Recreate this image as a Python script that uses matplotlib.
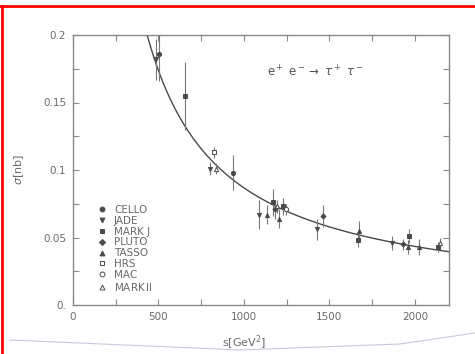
import numpy as np
import matplotlib
matplotlib.use("Agg")
import matplotlib.pyplot as plt
from matplotlib.lines import Line2D

# experiments and marker style
experiments = ["CELLO", "JADE", "MARK J", "PLUTO", "TASSO", "HRS", "MAC", "MARKII"]
legend_text = ["CELLO", "JADE", "MARK J", "PLUTO", "TASSO", "HRS", "MAC", r"MARK$\,$II"]
markers = ["o", "v", "s", "D", "^", "s", "o", "^"]
filled = [True, True, True, True, True, False, False, False]

# s [GeV^2], sigma [nb], error [nb]
s_vals = {
    "CELLO":  [504, 938],
    "JADE":   [487, 803, 1090, 1425, 1864],
    "MARK J": [656, 1172, 1231, 1665, 1964, 2134],
    "PLUTO":  [1184, 1460, 1928],
    "TASSO":  [1137, 1207, 1676, 2022, 1958],
    "HRS":    [826],
    "MAC":    [1249],
    "MARKII": [838, 1196, 2146],
}
sigma_vals = {
    "CELLO":  [0.186, 0.098],
    "JADE":   [0.182, 0.101, 0.067, 0.056, 0.046],
    "MARK J": [0.155, 0.076, 0.073, 0.048, 0.051, 0.043],
    "PLUTO":  [0.071, 0.066, 0.045],
    "TASSO":  [0.067, 0.064, 0.055, 0.043, 0.043],
    "HRS":    [0.113],
    "MAC":    [0.071],
    "MARKII": [0.101, 0.073, 0.046],
}
err_vals = {
    "CELLO":  [0.020, 0.013],
    "JADE":   [0.015, 0.005, 0.011, 0.008, 0.005],
    "MARK J": [0.025, 0.010, 0.006, 0.005, 0.005, 0.004],
    "PLUTO":  [0.007, 0.008, 0.004],
    "TASSO":  [0.007, 0.007, 0.007, 0.006, 0.005],
    "HRS":    [0.004],
    "MAC":    [0.004],
    "MARKII": [0.004, 0.005, 0.004],
}

# QED point-like prediction sigma = 4 pi alpha^2 / 3s = 86.8 nb GeV^2 / s
qed_const = 86.8
s_curve = np.linspace(400, 2200, 300)

xticks = [0, 250, 500, 750, 1000, 1250, 1500, 1750, 2000]
xlabels = ["0", "", "500", "", "1000", "", "1500", "", "2000"]
yticks = [0, 0.025, 0.05, 0.075, 0.1, 0.125, 0.15, 0.175, 0.2]
ylabels = ["0.", "", "0.05", "", "0.1", "", "0.15", "", "0.2"]

ink = "#4a4a4a"
txt = "#6a6a6a"

fig = plt.figure(figsize=(4.75, 3.54), dpi=100)
ax = fig.add_axes([73 / 475, 49 / 354, 376 / 475, 270 / 354])

ax.plot(s_curve, qed_const / s_curve, color=ink, lw=1.0)

handles = []
for name, lab, m, f in zip(experiments, legend_text, markers, filled):
    fc = ink if f else "white"
    ms = 3.0 if m != "D" else 2.6
    ax.errorbar(s_vals[name], sigma_vals[name], yerr=err_vals[name], fmt=m,
                ms=ms, mfc=fc, mec=ink, mew=0.7, ecolor="#777777",
                elinewidth=0.8, capsize=0, zorder=3)
    handles.append(Line2D([], [], ls="none", marker=m, ms=ms + 0.5, mfc=fc,
                          mec=ink, mew=0.7, label=lab))

ax.set_xlim(0, 2200)
ax.set_ylim(0, 0.2)
ax.set_xticks(xticks)
ax.set_xticklabels(xlabels)
ax.set_yticks(yticks)
ax.set_yticklabels(ylabels)
ax.tick_params(direction="in", top=True, right=True, length=4, width=0.8,
               color="#888888", labelsize=7.5, labelcolor=txt, pad=5)
for sp in ax.spines.values():
    sp.set_color("#888888")
    sp.set_linewidth(1.0)

ax.set_xlabel(r"s[GeV$^2$]", fontsize=8, color=txt, labelpad=6)
ax.xaxis.set_label_coords(0.455, -0.105)
ax.set_ylabel(r"$\sigma$[nb]", fontsize=8, color=txt, labelpad=12)

ax.text(0.515, 0.845, r"e$^+$ e$^-$$\rightarrow$ $\tau^+$ $\tau^-$",
        transform=ax.transAxes, fontsize=8.5, color="#555555")

leg = ax.legend(handles=handles, loc="upper left",
                bbox_to_anchor=(0.051, 0.39), frameon=False, fontsize=7.5,
                handlelength=0.8, handletextpad=0.8, labelspacing=0.08,
                borderpad=0, labelcolor=txt)

# scan frame: red border on top and left, faint page edge near bottom
fig.add_artist(Line2D([0, 1], [348 / 354, 348 / 354], color="red", lw=2,
                      transform=fig.transFigure))
fig.add_artist(Line2D([2 / 475, 2 / 475], [0, 348 / 354], color="red", lw=2,
                      transform=fig.transFigure))
fig.add_artist(Line2D([10 / 475, 240 / 475, 400 / 475, 475 / 475],
                      [14 / 354, 4 / 354, 10 / 354, 21 / 354],
                      color="#c8c8dc", lw=0.8, transform=fig.transFigure))

fig.savefig("out.png", dpi=100)
